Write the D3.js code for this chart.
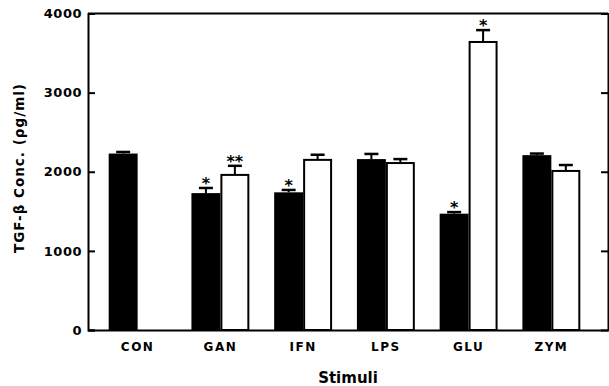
<!DOCTYPE html>
<html>
<head>
<meta charset="utf-8">
<script src="https://cdn.jsdelivr.net/npm/d3@7"></script>
<style>
  body { margin: 0; background: #fff; }
  text { font-family: "DejaVu Sans", sans-serif; font-weight: bold; fill: #000; }
</style>
</head>
<body>
<div id="chart"></div>
<script>
// data (pg/ml)
const stimuli = ["CON", "GAN", "IFN", "LPS", "GLU", "ZYM"];
const blackVals = [2230, 1730, 1740, 2160, 1470, 2210];
const blackErr = [20, 65, 30, 65, 20, 20];
const whiteVals = [null, 1960, 2150, 2110, 3640, 2010];
const whiteErr = [null, 115, 65, 50, 150, 75];
const blackSig = ["", "*", "*", "", "*", ""];
const whiteSig = ["", "**", "", "", "*", ""];
const yTicks = [0, 1000, 2000, 3000, 4000];

const width = 609, height = 386;
const plotLeft = 88, plotRight = 608, plotTop = 13.5, plotBottom = 330;

const svg = d3.select("#chart")
              .append("svg")
              .attr("width", width)
              .attr("height", height);

const x = d3.scaleBand()
            .domain(stimuli)
            .range([plotLeft, 601])
            .paddingInner(0.3)
            .paddingOuter(0.25);

const sub = d3.scaleBand()
              .domain(["b", "w"])
              .range([0, x.bandwidth()]);

const y = d3.scaleLinear()
            .domain([0, 4000])
            .range([plotBottom, plotTop]);

// rows of bars
const rows = [];
stimuli.forEach((s, i) => {
    rows.push({ s, k: "b", v: blackVals[i], e: blackErr[i], sig: blackSig[i] });
    if (whiteVals[i] != null)
        rows.push({ s, k: "w", v: whiteVals[i], e: whiteErr[i], sig: whiteSig[i] });
});

// error bars (drawn first so the bars cover the stem base)
const eb = svg.append("g").attr("stroke", "#000").attr("stroke-width", 2);
rows.forEach(d => {
    const cx = x(d.s) + sub(d.k) + sub.bandwidth() / 2;
    eb.append("line")
      .attr("x1", cx).attr("x2", cx)
      .attr("y1", y(d.v)).attr("y2", y(d.v + d.e));
    eb.append("line")
      .attr("x1", cx - 7).attr("x2", cx + 7)
      .attr("y1", y(d.v + d.e)).attr("y2", y(d.v + d.e))
      .attr("stroke-width", 2.5);
});

svg.append("g")
   .selectAll("rect")
   .data(rows)
   .join("rect")
   .attr("x", d => x(d.s) + sub(d.k) + (d.k === "w" ? 1 : 0))
   .attr("y", d => y(d.v))
   .attr("width", d => sub.bandwidth() - (d.k === "w" ? 2 : 0))
   .attr("height", d => y(0) - y(d.v))
   .attr("fill", d => d.k === "b" ? "#000" : "#fff")
   .attr("stroke", "#000")
   .attr("stroke-width", d => d.k === "w" ? 2 : 0);

// significance marks
svg.append("g")
   .selectAll("text")
   .data(rows.filter(d => d.sig))
   .join("text")
   .attr("x", d => x(d.s) + sub(d.k) + sub.bandwidth() / 2)
   .attr("y", d => y(d.v + d.e) + 1)
   .attr("text-anchor", "middle")
   .style("font-size", "16px")
   .text(d => d.sig);

// axes
const yAxis = svg.append("g")
   .attr("transform", `translate(${plotLeft},0)`)
   .call(d3.axisLeft(y).tickValues(yTicks).tickSize(-7).tickPadding(6).tickFormat(d3.format("d")));
yAxis.selectAll("text").style("font-size", "13px").style("letter-spacing", "0.5px");

const yRight = svg.append("g")
   .attr("transform", `translate(${plotRight},0)`)
   .call(d3.axisRight(y).tickValues(yTicks).tickSize(-7).tickFormat(""));

const xAxis = svg.append("g")
   .attr("transform", `translate(0,${plotBottom})`)
   .call(d3.axisBottom(x).tickSize(0).tickPadding(12));
xAxis.selectAll("text").style("font-size", "12px").style("letter-spacing", "1.5px");

[yAxis, yRight, xAxis].forEach(g => {
    g.select(".domain").attr("stroke-width", 2);
    g.selectAll(".tick line").attr("stroke-width", 2);
});

// top frame line
svg.append("line")
   .attr("x1", plotLeft).attr("x2", plotRight)
   .attr("y1", y(4000)).attr("y2", y(4000))
   .attr("stroke", "#000").attr("stroke-width", 2);

// titles
svg.append("text")
   .attr("x", (plotLeft + plotRight) / 2)
   .attr("y", 383)
   .attr("text-anchor", "middle")
   .style("font-size", "15px")
   .text("Stimuli");

svg.append("text")
   .attr("transform", "translate(24,168) rotate(-90)")
   .attr("text-anchor", "middle")
   .style("font-size", "13.5px")
   .style("letter-spacing", "1px")
   .text("TGF-β  Conc. (ρg/ml)");
</script>
</body>
</html>
